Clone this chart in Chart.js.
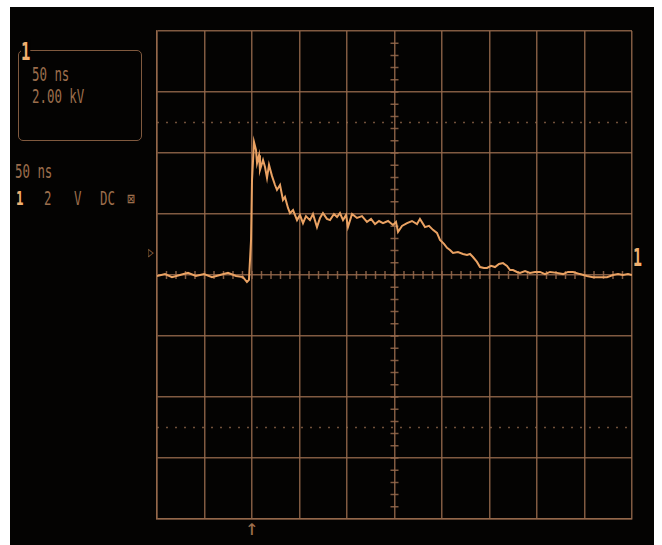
<!DOCTYPE html>
<html>
<head>
<meta charset="utf-8">
<script src="https://cdn.jsdelivr.net/npm/chart.js@4.4.1/dist/chart.umd.min.js"></script>
<style>
    body { margin: 0; background: #fff; width: 662px; height: 545px; position: relative; overflow: hidden; }
    #scope { position: absolute; left: 10px; top: 7px; width: 644px; height: 538px; background: #040302; }
    #plot { position: absolute; left: 0; top: 0; }
    .lbl { position: absolute; font-family: "DejaVu Sans Mono", monospace; color: #9c6e4c; font-size: 20px; line-height: 20px; transform: scaleX(0.62); transform-origin: left top; white-space: pre; }
    .big { color: #f0b070; font-weight: bold; }
    #box { position: absolute; left: 18px; top: 50px; width: 122px; height: 89px; border: 1.5px solid #80593e; border-radius: 5px; }
</style>
</head>
<body>
<div id="scope"></div>
<div id="box"></div>
<div class="lbl big" style="left:21px;top:39px;font-size:25px;line-height:25px;background:#040302;">1</div>
<div class="lbl" style="left:32px;top:64px;">50 ns</div>
<div class="lbl" style="left:32px;top:86px;">2.00 kV</div>
<div class="lbl" style="left:15px;top:161px;">50 ns</div>
<div class="lbl big" style="left:16px;top:188px;">1</div>
<div class="lbl" style="left:44px;top:188px;">2</div>
<div class="lbl" style="left:74px;top:188px;">V</div>
<div class="lbl" style="left:100px;top:188px;">DC</div>
<div class="lbl" style="left:127px;top:189px;font-size:16px;transform:scaleX(0.8);">⊠</div>
<div class="lbl" style="left:148px;top:242px;font-size:15px;">▷</div>
<div class="lbl big" style="left:633px;top:246px;font-size:24px;line-height:24px;">1</div>
<div class="lbl" style="left:245px;top:518px;font-size:22px;transform:none;">↑</div>
<canvas id="plot" width="662" height="545"></canvas>
<script>
// time in ns (50 ns/div), voltage in kV (2 kV/div)
const timeNs = [0, 8.4, 15.8, 24.2, 32.6, 41, 49.5, 57.9, 66.3, 74.7, 83.2, 90.5, 94.7, 96.8, 99, 100, 102.1, 104.2, 105.3, 107.4,
    108.4, 111.6, 113.7, 115.8, 117.9, 121, 124.2, 126.3, 129.5, 132.6, 134.7, 137.9, 140, 143.2, 147.4, 150.5, 153.7, 156.8, 161, 164.2,
    168.4, 171.6, 174.7, 178.9, 182.1, 186.3, 189.5, 192.6, 195.8, 199, 201, 205.3, 210.5, 215.8, 221, 225.3, 229.5, 233.7, 237.9, 243.2,
    248.4, 251.6, 253.7, 257.9, 263.2, 268.4, 273.7, 276.8, 282.1, 286.3, 290.5, 294.7, 297.9, 302.1, 305.3, 308.4, 311.6, 316.8, 322.1, 326.3,
    329.5, 332.6, 336.8, 340, 344.2, 347.4, 351.6, 355.8, 360, 364.2, 368.4, 371.6, 374.7, 378.9, 382.1, 387.4, 392.6, 397.9, 403.2, 408.4,
    413.7, 421, 427.4, 432.6, 437.9, 445.3, 452.6, 458.9, 466.3, 473.7, 480, 485.3, 490.5, 495.8, 500];
const voltKv = [-0.03, 0.03, -0.07, 0, 0.07, -0.03, 0.03, -0.07, 0, 0.07, -0.03, -0.07, -0.23, -0.16, 1.15, 3.1, 4.36, 4.1, 3.67, 3.93,
    3.44, 3.77, 3.54, 3.18, 3.61, 3.25, 2.95, 2.79, 2.95, 2.46, 2.56, 2.2, 2.03, 2.13, 1.8, 1.97, 1.7, 1.93, 1.8, 2.0,
    1.57, 1.87, 2.03, 1.84, 1.8, 2.0, 1.9, 2.03, 1.8, 1.97, 1.57, 2.0, 1.87, 1.93, 1.74, 1.84, 1.67, 1.77, 1.7, 1.77,
    1.64, 1.74, 1.41, 1.61, 1.7, 1.77, 1.67, 1.84, 1.57, 1.61, 1.48, 1.38, 1.15, 1.02, 0.89, 0.82, 0.72, 0.75, 0.69, 0.66,
    0.69, 0.59, 0.43, 0.26, 0.23, 0.23, 0.3, 0.26, 0.36, 0.39, 0.3, 0.16, 0.16, 0.1, 0.07, 0.13, 0.07, 0.1, 0.1, 0.03,
    0.1, 0.07, 0.03, 0.1, 0.1, 0.03, -0.03, -0.07, -0.07, -0.07, 0, 0.03, 0, 0.03, 0];
const xRange = [0, 500];
const yRange = [-8, 8];
const cursorKv = [5, -5];

const gridCol = 'rgba(150,106,76,0.85)';
const traceCol = '#eaa263';

// small tick marks along the centre cross, like the scope graticule
const centreTicks = {
    id: 'centreTicks',
    beforeDatasetsDraw(chart) {
        const { ctx, scales: { x, y } } = chart;
        const cx = x.getPixelForValue(250), cy = y.getPixelForValue(0);
        ctx.save();
        ctx.strokeStyle = gridCol;
        ctx.lineWidth = 1.5;
        ctx.beginPath();
        for (let t = xRange[0] + 10; t < xRange[1]; t += 10) {
            const px = x.getPixelForValue(t);
            ctx.moveTo(px, cy - 4); ctx.lineTo(px, cy + 4);
        }
        for (let v = yRange[0] + 0.4; v < yRange[1]; v += 0.4) {
            const py = y.getPixelForValue(v);
            ctx.moveTo(cx - 4, py); ctx.lineTo(cx + 4, py);
        }
        ctx.stroke();
        ctx.restore();
    }
};

new Chart(document.getElementById('plot'), {
    type: 'line',
    data: {
        datasets: [
            {
                data: timeNs.map((t, i) => ({ x: t, y: voltKv[i] })),
                borderColor: traceCol, borderWidth: 2, pointRadius: 0, tension: 0
            },
            ...cursorKv.map(v => ({
                data: [{ x: xRange[0], y: v }, { x: xRange[1], y: v }],
                borderColor: 'rgba(140,100,72,0.8)', borderWidth: 1.5, borderDash: [2, 7], pointRadius: 0
            }))
        ]
    },
    options: {
        responsive: false,
        animation: false,
        layout: { padding: { left: 157, right: 30, top: 31, bottom: 26 } },
        plugins: { legend: { display: false }, tooltip: { enabled: false } },
        scales: {
            x: {
                type: 'linear', min: xRange[0], max: xRange[1],
                ticks: { display: false, stepSize: 50 },
                grid: { color: gridCol, lineWidth: 1.5, drawTicks: false },
                border: { color: gridCol, width: 1.5 }
            },
            y: {
                type: 'linear', min: yRange[0], max: yRange[1],
                ticks: { display: false, stepSize: 2 },
                grid: { color: gridCol, lineWidth: 1.5, drawTicks: false },
                border: { color: gridCol, width: 1.5 }
            }
        }
    },
    plugins: [centreTicks]
});
</script>
</body>
</html>
